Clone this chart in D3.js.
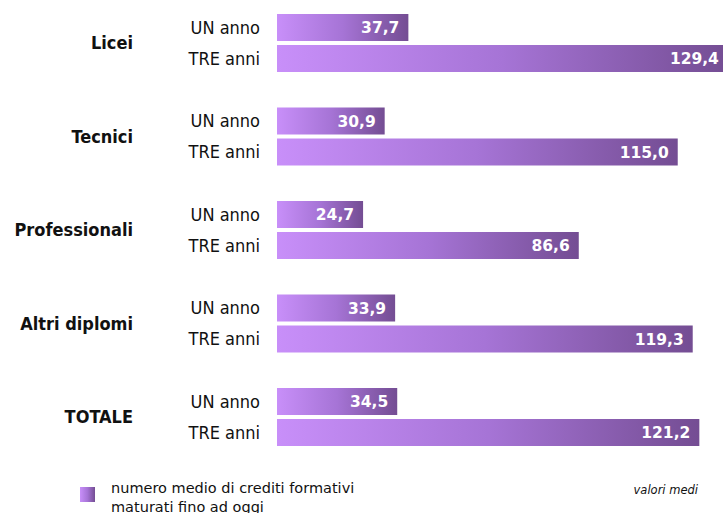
<!DOCTYPE html>
<html>
<head>
<meta charset="utf-8">
<script src="https://cdn.jsdelivr.net/npm/d3@7"></script>
<style>
  html, body { margin: 0; padding: 0; background: #fff; overflow: hidden; }
</style>
</head>
<body>
<div id="chart"></div>
<script>
// data
const categories = ["Licei", "Tecnici", "Professionali", "Altri diplomi", "TOTALE"];
const periods = ["UN anno", "TRE anni"];
const unAnno = [37.7, 30.9, 24.7, 33.9, 34.5];
const treAnni = [129.4, 115.0, 86.6, 119.3, 121.2];
const legendLines = ["numero medio di crediti formativi", "maturati fino ad oggi"];
const noteText = "valori medi";

const width = 723, height = 513;

const rows = [];
categories.forEach((c, i) => {
  rows.push({cat: c, period: periods[0], value: unAnno[i]});
  rows.push({cat: c, period: periods[1], value: treAnni[i]});
});

const svg = d3.select("#chart").append("svg")
  .attr("width", width)
  .attr("height", height);

// gradient, light on the left to dark on the right (per bar)
const grad = svg.append("defs").append("linearGradient")
  .attr("id", "barGrad")
  .attr("x1", 0).attr("x2", 1).attr("y1", 0).attr("y2", 0);
grad.append("stop").attr("offset", "0%").attr("stop-color", "#c88ff9");
grad.append("stop").attr("offset", "50%").attr("stop-color", "#a674d6");
grad.append("stop").attr("offset", "100%").attr("stop-color", "#744d93");

const x = d3.scaleLinear().domain([0, 130]).range([277, 730]);

const y0 = d3.scaleBand().domain(categories).range([14, 14 + 93.5 * categories.length]);
const y1 = d3.scaleBand().domain(periods).range([0, 58]).paddingInner(4 / 31);

const fmt = v => d3.format(".1f")(v).replace(".", ",");

// category labels
svg.append("g")
  .selectAll("text")
  .data(categories)
  .join("text")
  .attr("x", 133)
  .attr("y", d => y0(d) + 29)
  .attr("dy", "0.36em")
  .attr("text-anchor", "end")
  .attr("font-family", "'DejaVu Sans Condensed', 'DejaVu Sans', sans-serif")
  .attr("font-weight", "bold")
  .attr("font-size", 18)
  .attr("fill", "#111")
  .text(d => d);

// period labels
svg.append("g")
  .selectAll("text")
  .data(rows)
  .join("text")
  .attr("x", 260)
  .attr("y", d => y0(d.cat) + y1(d.period) + y1.bandwidth() / 2)
  .attr("dy", "0.36em")
  .attr("text-anchor", "end")
  .attr("font-family", "'DejaVu Sans Condensed', 'DejaVu Sans', sans-serif")
  .attr("font-size", 18)
  .attr("fill", "#111")
  .text(d => d.period);

// bars
svg.append("g")
  .selectAll("rect")
  .data(rows)
  .join("rect")
  .attr("x", x(0))
  .attr("y", d => y0(d.cat) + y1(d.period))
  .attr("width", d => x(d.value) - x(0))
  .attr("height", y1.bandwidth())
  .attr("fill", "url(#barGrad)");

// value labels
svg.append("g")
  .selectAll("text")
  .data(rows)
  .join("text")
  .attr("x", d => x(d.value) - 9)
  .attr("y", d => y0(d.cat) + y1(d.period) + y1.bandwidth() / 2)
  .attr("dy", "0.36em")
  .attr("text-anchor", "end")
  .attr("font-family", "'DejaVu Sans', sans-serif")
  .attr("font-weight", "bold")
  .attr("font-size", 15.5)
  .attr("fill", "#fff")
  .text(d => fmt(d.value));

// legend
svg.append("rect")
  .attr("x", 80).attr("y", 487)
  .attr("width", 15).attr("height", 15)
  .attr("fill", "url(#barGrad)");

svg.append("g")
  .selectAll("text")
  .data(legendLines)
  .join("text")
  .attr("x", 111)
  .attr("y", (d, i) => 493 + i * 19)
  .attr("font-family", "'DejaVu Sans', sans-serif")
  .attr("font-size", 14.5)
  .attr("fill", "#111")
  .text(d => d);

svg.append("text")
  .attr("x", 698)
  .attr("y", 494)
  .attr("text-anchor", "end")
  .attr("font-family", "'DejaVu Sans', sans-serif")
  .attr("font-style", "italic")
  .attr("font-size", 11.5)
  .attr("fill", "#111")
  .text(noteText);
</script>
</body>
</html>
